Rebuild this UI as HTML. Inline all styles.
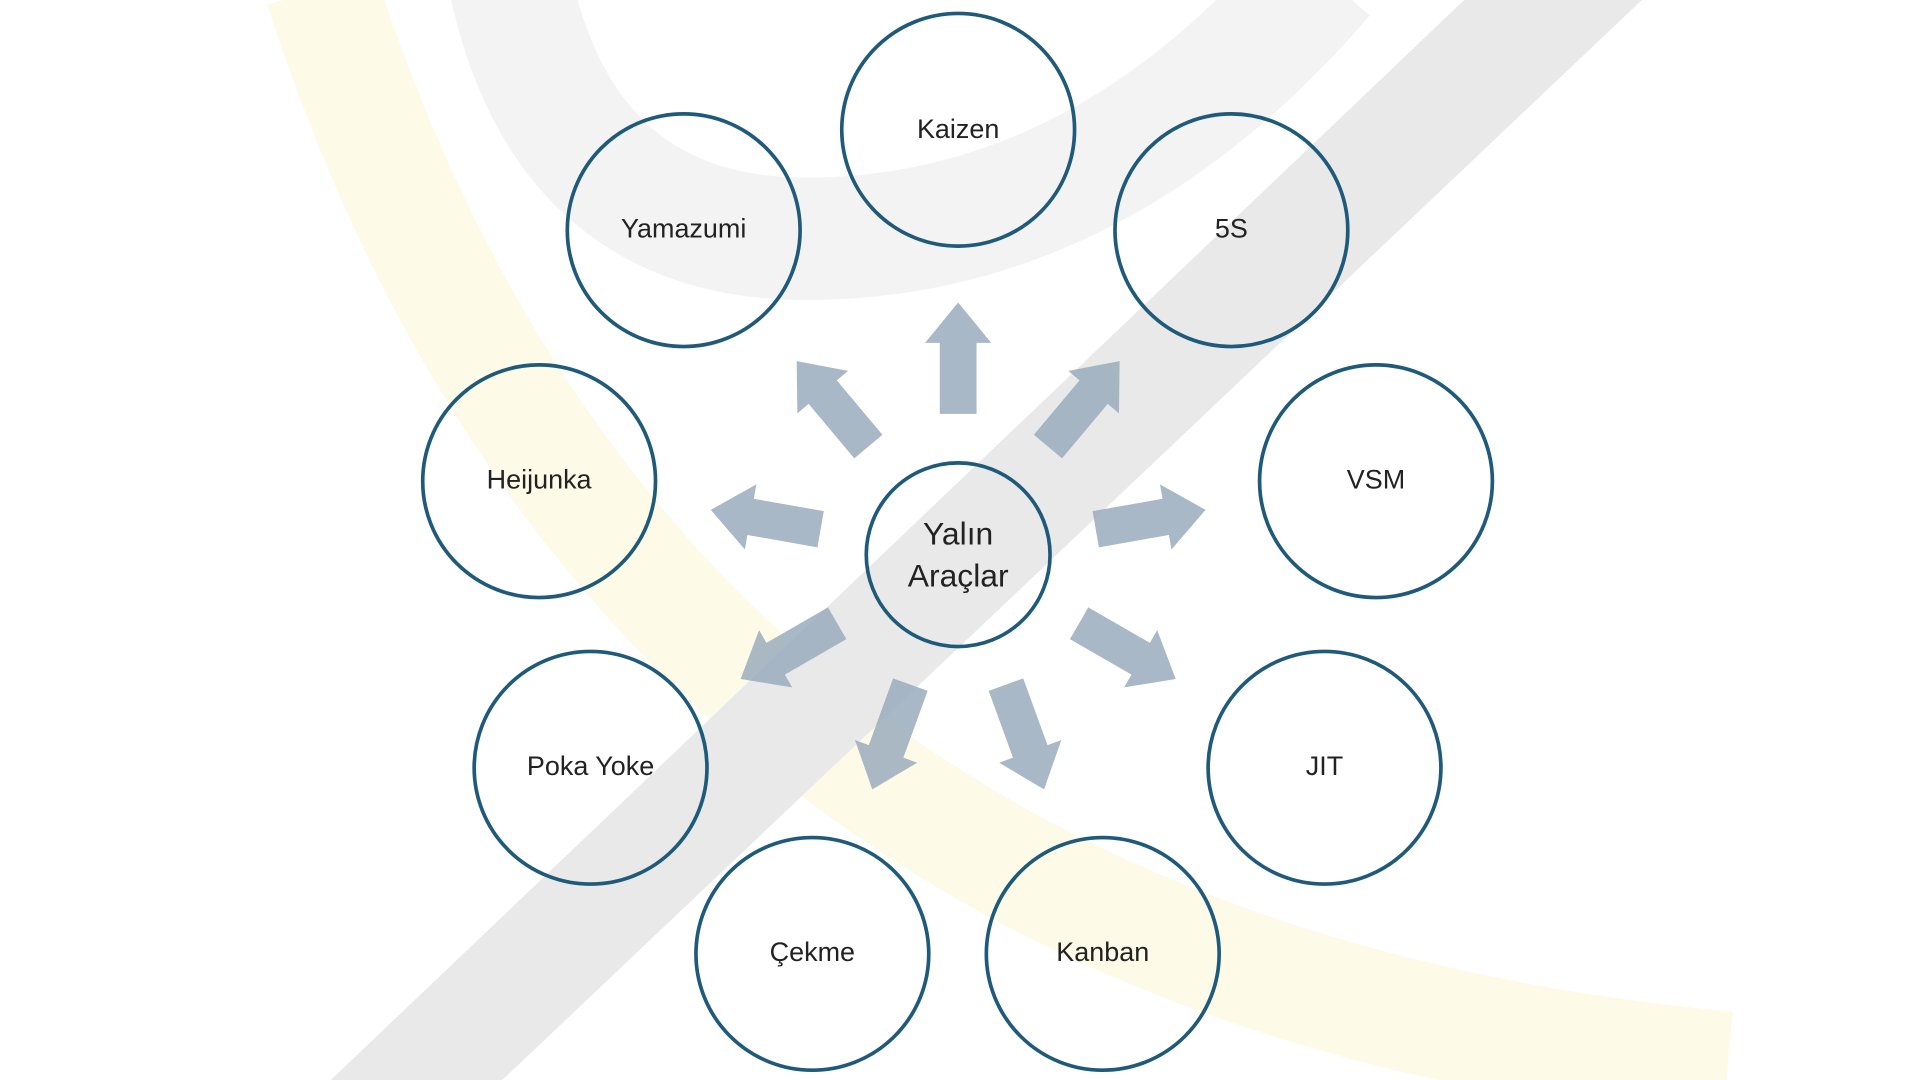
<!DOCTYPE html>
<html><head><meta charset="utf-8"><style>html,body{margin:0;padding:0;background:#fff;overflow:hidden}svg{display:block}</style></head>
<body>
<svg width="1920" height="1080" viewBox="0 0 1567 882" preserveAspectRatio="none" xmlns="http://www.w3.org/2000/svg">
<rect width="1567" height="882" fill="#fff"/>
<path d="M415,-20 Q460,200 668,195 Q900,190 1080,-20" fill="none" stroke="#f3f3f3" stroke-width="100"/>
<path d="M262,-10 Q520,790 1410,872" fill="none" stroke="#fdfae8" stroke-width="92"/>
<polygon points="1195,0 1340,0 410,882 270,882" fill="#e9e9e9"/>
<g fill="#9aabbc" fill-opacity="0.85">
<g transform="translate(782,452) rotate(-90)"><polygon id="a" points="114,-15 172,-15 172,-27 205,0 172,27 172,15 114,15"/></g>
<g transform="translate(782,452) rotate(-130)"><use href="#a"/></g>
<g transform="translate(782,452) rotate(-50)"><use href="#a"/></g>
<g transform="translate(782,452) rotate(-170)"><use href="#a"/></g>
<g transform="translate(782,452) rotate(-10)"><use href="#a"/></g>
<g transform="translate(782,452) rotate(150)"><use href="#a"/></g>
<g transform="translate(782,452) rotate(30)"><use href="#a"/></g>
<g transform="translate(782,452) rotate(110)"><use href="#a"/></g>
<g transform="translate(782,452) rotate(70)"><use href="#a"/></g>
</g>
<g fill="none" stroke="#1f5a7a" stroke-width="3">
<circle cx="782" cy="106" r="95"/>
<circle cx="558" cy="188" r="95"/>
<circle cx="1005" cy="188" r="95"/>
<circle cx="440" cy="393" r="95"/>
<circle cx="1123" cy="393" r="95"/>
<circle cx="482" cy="627" r="95"/>
<circle cx="1081" cy="627" r="95"/>
<circle cx="663" cy="779" r="95"/>
<circle cx="900" cy="779" r="95"/>
<circle cx="782" cy="453" r="75"/>
</g>
<g font-family="Liberation Sans, sans-serif" font-size="22" fill="#222" text-anchor="middle" dominant-baseline="middle">
<text x="782" y="107">Kaizen</text>
<text x="558" y="188">Yamazumi</text>
<text x="1005" y="188">5S</text>
<text x="440" y="393">Heijunka</text>
<text x="1123" y="393">VSM</text>
<text x="482" y="627">Poka Yoke</text>
<text x="1081" y="627">JIT</text>
<text x="663" y="779">Çekme</text>
<text x="900" y="779">Kanban</text>
<text x="782" y="438" font-size="26">Yalın</text>
<text x="782" y="472" font-size="26">Araçlar</text>
</g>
</svg>
</body></html>
